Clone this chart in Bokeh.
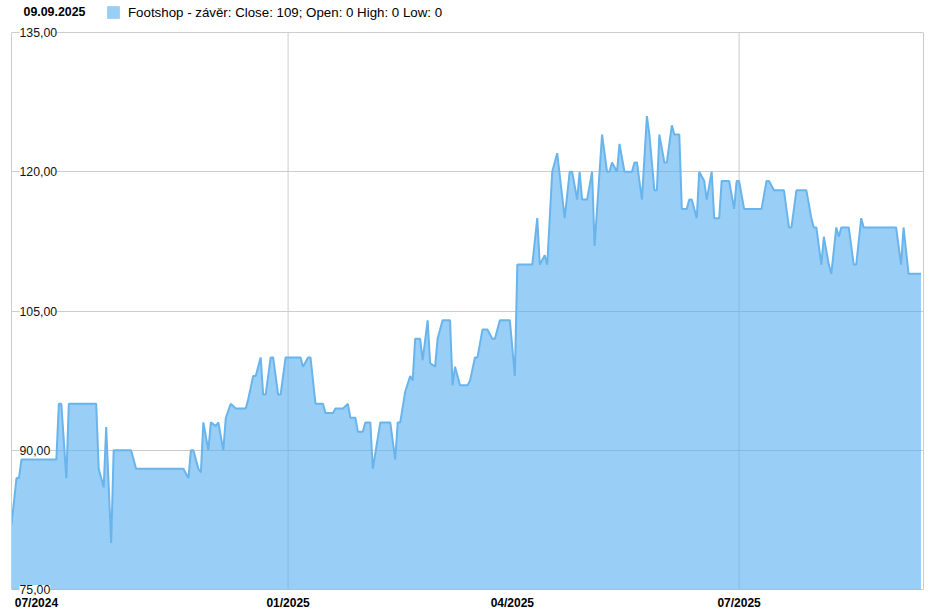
import pandas as pd
from bokeh.plotting import figure
from bokeh.models import (ColumnDataSource, FixedTicker, LabelSet, Label, Legend,
                          LegendItem, Range1d, LinearAxis)
from bokeh.embed import file_html
from bokeh.resources import INLINE
from bokeh.core.properties import value

# ---- data ----
dates = [
    "2024-09-12", "2024-09-14", "2024-09-15", "2024-09-16", "2024-09-30", "2024-10-01",
    "2024-10-02", "2024-10-04", "2024-10-05", "2024-10-16", "2024-10-17", "2024-10-19",
    "2024-10-20", "2024-10-22", "2024-10-23", "2024-10-30", "2024-11-01", "2024-11-20",
    "2024-11-22", "2024-11-23", "2024-11-24", "2024-11-26", "2024-11-27", "2024-11-28",
    "2024-11-30", "2024-12-01", "2024-12-03", "2024-12-04", "2024-12-06", "2024-12-07",
    "2024-12-09", "2024-12-11", "2024-12-15", "2024-12-16", "2024-12-18", "2024-12-19",
    "2024-12-21", "2024-12-22", "2024-12-23", "2024-12-25", "2024-12-26", "2024-12-28",
    "2024-12-29", "2024-12-31", "2025-01-06", "2025-01-07", "2025-01-09", "2025-01-10",
    "2025-01-12", "2025-01-15", "2025-01-16", "2025-01-19", "2025-01-20", "2025-01-23",
    "2025-01-25", "2025-01-26", "2025-01-28", "2025-01-29", "2025-01-31", "2025-02-01",
    "2025-02-03", "2025-02-04", "2025-02-07", "2025-02-11", "2025-02-13", "2025-02-14",
    "2025-02-15", "2025-02-17", "2025-02-19", "2025-02-20", "2025-02-21", "2025-02-23",
    "2025-02-24", "2025-02-26", "2025-02-27", "2025-03-01", "2025-03-02", "2025-03-04",
    "2025-03-07", "2025-03-08", "2025-03-09", "2025-03-11", "2025-03-14", "2025-03-15",
    "2025-03-17", "2025-03-18", "2025-03-20", "2025-03-22", "2025-03-24", "2025-03-25",
    "2025-03-27", "2025-03-31", "2025-04-02", "2025-04-03", "2025-04-09", "2025-04-11",
    "2025-04-12", "2025-04-14", "2025-04-15", "2025-04-17", "2025-04-19", "2025-04-22",
    "2025-04-24", "2025-04-25", "2025-04-27", "2025-04-28", "2025-04-29", "2025-05-01",
    "2025-05-03", "2025-05-04", "2025-05-06", "2025-05-07", "2025-05-09", "2025-05-10",
    "2025-05-11", "2025-05-13", "2025-05-14", "2025-05-16", "2025-05-19", "2025-05-20",
    "2025-05-21", "2025-05-23", "2025-05-25", "2025-05-26", "2025-05-28", "2025-05-29",
    "2025-05-30", "2025-06-01", "2025-06-02", "2025-06-04", "2025-06-05", "2025-06-07",
    "2025-06-08", "2025-06-10", "2025-06-11", "2025-06-12", "2025-06-14", "2025-06-15",
    "2025-06-17", "2025-06-18", "2025-06-20", "2025-06-21", "2025-06-23", "2025-06-24",
    "2025-06-27", "2025-06-29", "2025-06-30", "2025-07-01", "2025-07-03", "2025-07-10",
    "2025-07-12", "2025-07-13", "2025-07-15", "2025-07-19", "2025-07-21", "2025-07-22",
    "2025-07-24", "2025-07-28", "2025-07-30", "2025-07-31", "2025-08-01", "2025-08-03",
    "2025-08-04", "2025-08-06", "2025-08-07", "2025-08-09", "2025-08-10", "2025-08-11",
    "2025-08-14", "2025-08-16", "2025-08-17", "2025-08-19", "2025-08-20", "2025-09-02",
    "2025-09-04", "2025-09-05", "2025-09-07", "2025-09-12",
]
close = [
    82, 87, 87, 89, 89, 95,
    95, 87, 95, 95, 88, 86,
    92.5, 80, 90, 90, 88, 88,
    87, 90, 90, 88, 87.6, 93,
    90, 93, 92.6, 93, 90, 93.5,
    95, 94.5, 94.5, 95.5, 98, 98,
    100, 96, 96, 100, 100, 96,
    96, 100, 100, 99, 100, 100,
    95, 95, 94, 94, 94.5, 94.5,
    95, 93.5, 93.5, 92, 92, 93,
    93, 88, 93, 93, 89, 93,
    93, 96.3, 98, 97.5, 102, 102,
    99.7, 104, 99.4, 99, 102, 104,
    104, 97, 99, 97, 97, 97.5,
    100, 100, 103, 103, 102, 102,
    104, 104, 98, 110, 110, 115,
    110, 111, 110, 120, 122, 115,
    120, 120, 117, 120, 117, 117,
    120, 112, 120, 124, 120, 120,
    121, 120, 123, 120, 120, 121,
    121, 117, 126, 124, 118, 118,
    124, 121, 121, 125, 124, 124,
    116, 116, 117, 117, 115, 120,
    119, 117, 120, 115, 115, 119,
    119, 116, 119, 119, 116, 116,
    119, 119, 118, 118, 114, 114,
    118, 118, 115, 114, 114, 110,
    113, 110, 109, 114, 113, 114,
    114, 110, 110, 115, 114, 114,
    110, 114, 109, 109,
]
y_ticks = [75, 90, 105, 120, 135]
y_tick_labels = ["75,00", "90,00", "105,00", "120,00", "135,00"]
x_tick_dates = ["2024-09-22", "2025-01-01", "2025-04-01", "2025-07-01"]
x_tick_labels = ["07/2024", "01/2025", "04/2025", "07/2025"]
x_grid_dates = ["2025-01-01", "2025-07-01"]
header_date = "09.09.2025"
series_label = "Footshop - závěr: Close: 109; Open: 0 High: 0 Low: 0"


def to_ms(s):
    return pd.Timestamp(s).value / 1e6


FONT = "Liberation Sans"
GRID = "#cccccc"

# layout: 135 sits 32px below the frame top, the frame goes 6px under 75
FRAME_H = 595
PX_PER_UNIT = 557 / (y_ticks[-1] - y_ticks[0])
y_lo = y_ticks[0] - 6 / PX_PER_UNIT
y_hi = y_ticks[-1] + 32 / PX_PER_UNIT

src = ColumnDataSource(dict(x=[pd.Timestamp(d) for d in dates], y=close))

p = figure(
    x_axis_type="datetime",
    frame_width=912, frame_height=FRAME_H,
    x_range=Range1d(pd.Timestamp("2024-09-12"), pd.Timestamp("2025-09-13")),
    y_range=Range1d(y_lo, y_hi),
    min_border_left=11, min_border_right=11, min_border_top=0, min_border_bottom=0,
    output_backend="svg", toolbar_location=None,
    background_fill_color="white", border_fill_color="white",
)
p.outline_line_color = None

# vertical grid lines (only between 75 and 135)
vg = ColumnDataSource(dict(
    x=[pd.Timestamp(d) for d in x_grid_dates],
    y0=[y_ticks[0]] * len(x_grid_dates),
    y1=[y_ticks[-1]] * len(x_grid_dates),
))
p.segment(x0="x", y0="y0", x1="x", y1="y1", source=vg, line_color=GRID, line_width=1)

area = p.varea(x="x", y1=y_ticks[0], y2="y", source=src, fill_color="#55ADF0", fill_alpha=0.6)
p.line(x="x", y="y", source=src, line_color="#6AB4EC", line_width=2)

# horizontal grid
p.xgrid.visible = False
p.ygrid.ticker = FixedTicker(ticks=y_ticks)
p.ygrid.grid_line_color = GRID
p.ygrid.grid_line_width = 1

# x axis
p.xaxis.ticker = FixedTicker(ticks=[to_ms(d) for d in x_tick_dates])
p.xaxis.major_label_overrides = {to_ms(d): lab for d, lab in zip(x_tick_dates, x_tick_labels)}
p.xaxis.axis_line_color = None
p.xaxis.major_tick_in = 0
p.xaxis.major_tick_out = 0
p.xaxis.minor_tick_in = 0
p.xaxis.minor_tick_out = 0
p.xaxis.major_label_standoff = 0
p.xaxis.major_label_text_font = FONT
p.xaxis.major_label_text_font_style = "bold"
p.xaxis.major_label_text_font_size = "12px"
p.xaxis.major_label_text_color = "black"


def style_border_axis(ax):
    ax.ticker = FixedTicker(ticks=[])
    ax.bounds = (y_ticks[0], y_ticks[-1])
    ax.axis_line_color = GRID
    ax.axis_line_width = 1
    ax.major_tick_in = 0
    ax.major_tick_out = 0
    ax.minor_tick_in = 0
    ax.minor_tick_out = 0
    ax.major_label_standoff = 0
    ax.major_label_text_font_size = "0px"


style_border_axis(p.yaxis[0])
right_axis = LinearAxis()
style_border_axis(right_axis)
p.add_layout(right_axis, "right")

# y tick labels drawn inside the frame
ylab_src = ColumnDataSource(dict(y=y_ticks, text=y_tick_labels))
p.add_layout(LabelSet(
    x=8, y="y", x_units="screen", text="text", source=ylab_src,
    text_baseline="middle", text_align="left",
    text_font=value(FONT), text_font_size="12.3px", text_color="#111111",
    background_fill_color="white", background_fill_alpha=1,
))

# header: date + legend
p.add_layout(Label(
    x=12, y=FRAME_H - 11, x_units="screen", y_units="screen", text=header_date,
    text_baseline="middle", text_align="left",
    text_font=FONT, text_font_size="12.4px", text_font_style="bold", text_color="black",
))
legend = Legend(
    items=[LegendItem(label=value(series_label), renderers=[area])],
    location=(94, FRAME_H - 20), orientation="horizontal",
    padding=0, margin=0, spacing=0,
    border_line_color=None, background_fill_alpha=0,
    glyph_width=16, glyph_height=16, label_height=16, label_standoff=7,
    label_text_font=FONT, label_text_font_size="13.3px", label_text_color="black",
)
p.add_layout(legend)

open("out.html", "w").write(file_html(p, INLINE))
